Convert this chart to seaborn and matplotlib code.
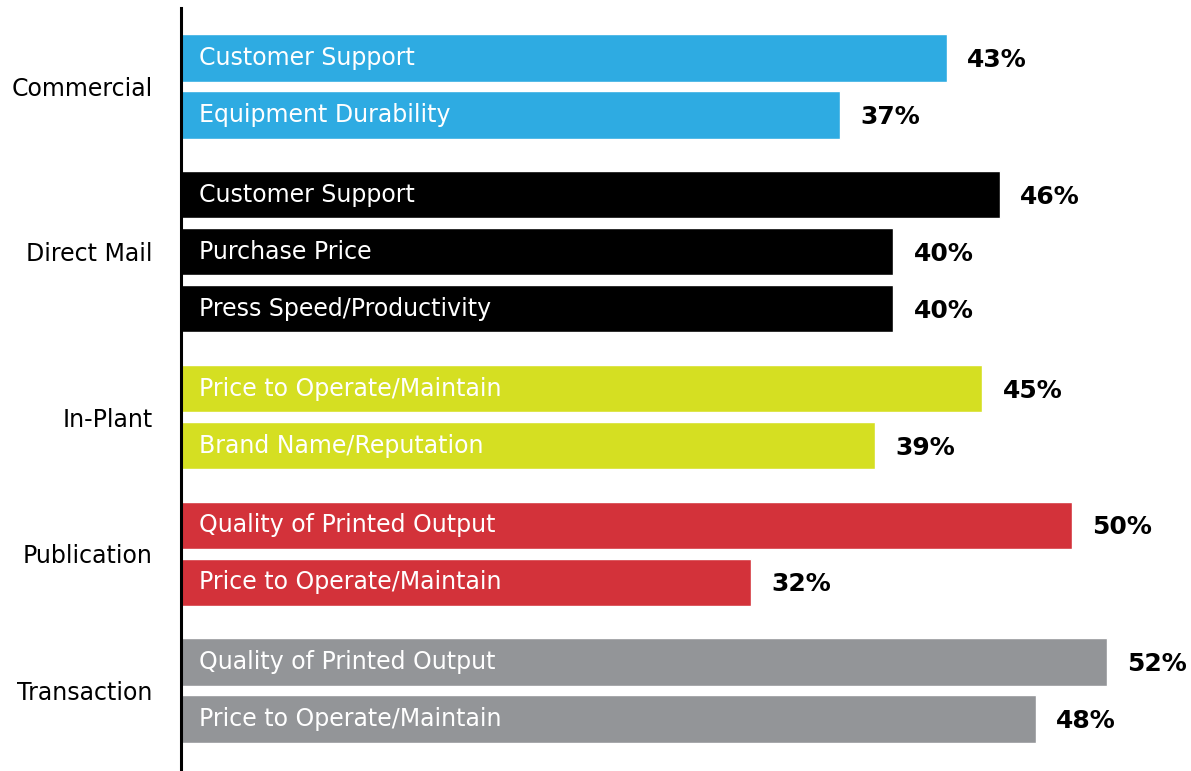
import numpy as np
import pandas as pd
import matplotlib
matplotlib.use('Agg')
import matplotlib.pyplot as plt
import seaborn as sns

# data
segments = ['Commercial', 'Direct Mail', 'In-Plant', 'Publication', 'Transaction']
factors = [
    ['Customer Support', 'Equipment Durability'],
    ['Customer Support', 'Purchase Price', 'Press Speed/Productivity'],
    ['Price to Operate/Maintain', 'Brand Name/Reputation'],
    ['Quality of Printed Output', 'Price to Operate/Maintain'],
    ['Quality of Printed Output', 'Price to Operate/Maintain'],
]
values = [
    [43, 37],
    [46, 40, 40],
    [45, 39],
    [50, 32],
    [52, 48],
]
colors = ['#2EABE2', '#000000', '#D5DF22', '#D3323A', '#939598']

GROUP_GAP = 0.4

# build long table with y positions (extra gap between segments)
rows = []
pos = 0.0
group_centers = []
for g, seg in enumerate(segments):
    start = pos
    for f, v in zip(factors[g], values[g]):
        rows.append({'segment': seg, 'factor': f, 'value': v, 'pos': pos})
        pos += 1
    group_centers.append((start + pos - 1) / 2)
    pos += GROUP_GAP
df = pd.DataFrame(rows)

sns.set_style('white')
plt.rcParams['font.family'] = ['DejaVu Sans']

W, H = 1191, 771
fig = plt.figure(figsize=(W / 100, H / 100), dpi=100)
left_px = 180.5
ax = fig.add_axes([left_px / W, 0, (W - left_px) / W, 763 / H])

sns.barplot(data=df, x='value', y='pos', hue='segment', palette=colors,
            orient='h', native_scale=True, width=0.83, dodge=False,
            saturation=1, legend=False, ax=ax)

px_per_pct = 17.82
ax.set_xlim(0, (W - left_px) / px_per_pct)
ax.set_ylim(12.51, -0.877)

for _, r in df.iterrows():
    ax.annotate(r['factor'], xy=(0, r['pos']), xytext=(13.5, 0),
                textcoords='offset points', va='center', ha='left',
                color='white', fontsize=17)
    ax.annotate(f"{r['value']}%", xy=(r['value'], r['pos']), xytext=(14.5, -1.5),
                textcoords='offset points', va='center', ha='left',
                color='black', fontsize=18, fontweight='bold')

ax.set_yticks(group_centers)
ax.set_yticklabels(segments, fontsize=17, color='black')
ax.tick_params(axis='y', length=0, pad=20)
ax.set_xticks([])
ax.set_xlabel('')
ax.set_ylabel('')
for s in ['top', 'right', 'bottom']:
    ax.spines[s].set_visible(False)
ax.spines['left'].set_linewidth(2.2)
ax.spines['left'].set_color('black')

fig.savefig('out.png', dpi=100, facecolor='white')
